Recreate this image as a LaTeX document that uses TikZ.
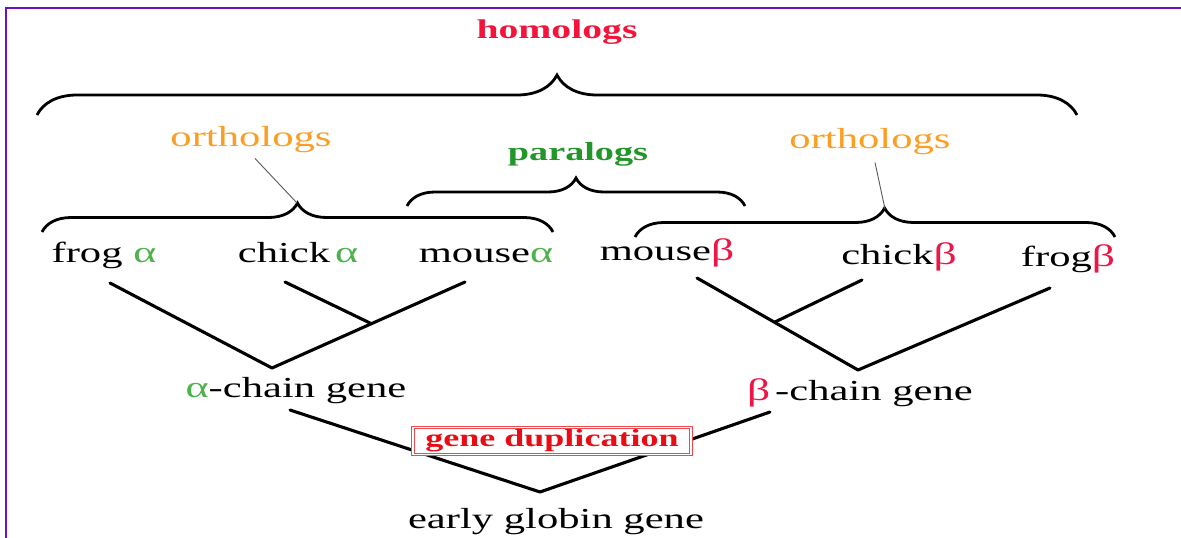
\documentclass[tikz,border=0pt]{standalone}
\usepackage{fontspec}
\setmainfont[FakeStretch=1.47]{Liberation Serif}
\usetikzlibrary{positioning, calc, decorations.pathreplacing}

\definecolor{homred}{RGB}{242,20,58}
\definecolor{orthorange}{RGB}{250,158,36}
\definecolor{paragreen}{RGB}{34,150,40}
\definecolor{agreen}{RGB}{76,178,76}
\definecolor{bred}{RGB}{238,22,70}
\definecolor{dupred}{RGB}{232,12,20}
\definecolor{framepurple}{RGB}{112,16,186}

\newcommand{\greekA}{{\color{agreen}\fontsize{30}{30}\selectfont α}}
\newcommand{\greekB}{{\color{bred}\fontsize{31}{31}\selectfont β}}

\begin{document}
\begin{tikzpicture}[x=1pt, y=-1pt,
    lbl/.style={font=\fontsize{29}{30}\selectfont, anchor=base, inner sep=0pt},
    grp lbl/.style={lbl, text=#1},
    branch/.style={line width=3.1pt, black, line cap=round},
    grp brace/.style={decorate, decoration={brace, amplitude=#1}, line width=2.8pt, black},
    pointer/.style={gray!70!black, line width=0.9pt},
    dup box/.style={draw=dupred!75, double, double distance=1.3pt, line width=0.9pt,
        fill=white, text=dupred, font=\fontsize{24.5}{26}\selectfont\bfseries,
        minimum width=278pt, minimum height=27pt, inner sep=0pt}
]
\useasboundingbox (0,0) rectangle (1181,538);

% marco de la diapositiva
\draw[framepurple, line width=2pt] (6,538) -- (6,8) -- (1181,8);

% ------------------------------------------------------------------------------
% 1. ETIQUETAS DE GRUPO
% ------------------------------------------------------------------------------
\node[grp lbl=homred, font=\fontsize{27}{30}\selectfont\bfseries] (homo) at (557,38) {homologs};
\node[grp lbl=orthorange] (orthoL) at (251,146) {orthologs};
\node[grp lbl=paragreen, font=\fontsize{26}{30}\selectfont\bfseries] (para) at (578,160) {paralogs};
\node[grp lbl=orthorange] (orthoR) at (870,148) {orthologs};

% llaves
\draw[grp brace=40] (37,115) -- (1077,115);
\draw[grp brace=29] (42,232) -- (553,232);
\draw[grp brace=28] (407,206) -- (745,206);
\draw[grp brace=29, decoration={aspect=0.52}] (635,237) -- (1115,237);

\coordinate (tipL) at (297,203);
\coordinate (tipR) at (885,209);
\draw[pointer] ([shift={(4,6)}]orthoL.south) -- (tipL);
\draw[pointer] ([shift={(5,8)}]orthoR.south) -- (tipR);

% ------------------------------------------------------------------------------
% 2. HOJAS (genes actuales)
% ------------------------------------------------------------------------------
\node[lbl] (frogA) at (104,262) {frog \greekA};
\node[lbl] (chickA) at (298,262) {chick\,\greekA};
\node[lbl] (mouseA) at (486,262) {mouse\greekA};
\node[lbl] (mouseB) at (667,260) {mouse\greekB};
\node[lbl] (chickB) at (899,264) {chick\greekB};
\node[lbl] (frogB) at (1068,266) {frog\greekB};

\node[lbl] (alphaGene) at (296,397) {\greekA-chain gene};
\node[lbl] (betaGene) at (860,400) {\greekB\,-chain gene};
\node[lbl] (early) at (556,528) {early globin gene};

% ------------------------------------------------------------------------------
% 3. RAMAS
% ------------------------------------------------------------------------------
\coordinate (aRoot) at (272,368);
\coordinate (aJoin) at (370,323);
\coordinate (bRoot) at (858,370);
\coordinate (bJoin) at (775,322);
\coordinate (gRoot) at (540,492);

\draw[branch] ([shift={(6,21)}]frogA.base) -- (aRoot);
\draw[branch] ([shift={(-21,20)}]mouseA.base) -- (aRoot);
\draw[branch] ([shift={(-13,20)}]chickA.base) -- (aJoin);

\draw[branch] ([shift={(30,18)}]mouseB.base) -- (bRoot);
\draw[branch] ([shift={(-18,22)}]frogB.base) -- (bRoot);
\draw[branch] ([shift={(-37,16)}]chickB.base) -- (bJoin);

\draw[branch] ([shift={(-6,13)}]alphaGene.base) -- (gRoot);
\draw[branch] ([shift={(-90,12)}]betaGene.base) -- (gRoot);

\node[dup box] (dup) at (552,441) {gene duplication};

\end{tikzpicture}
\end{document}
